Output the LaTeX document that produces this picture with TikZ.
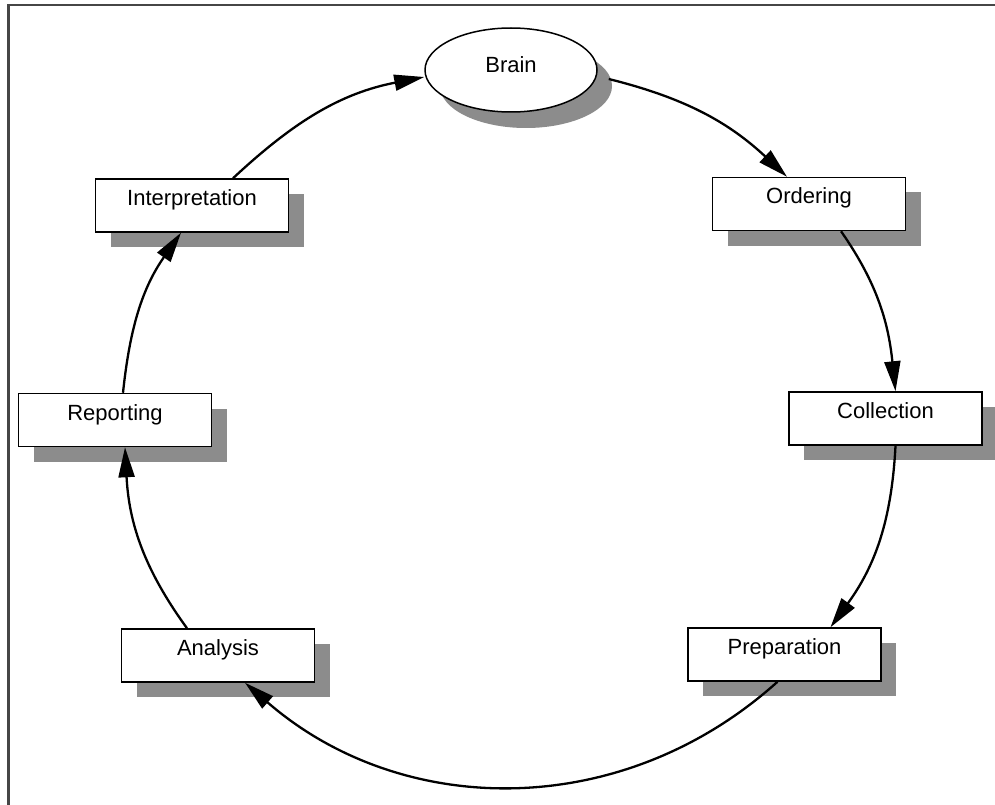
\documentclass[tikz,border=0pt]{standalone}
\usepackage{fontspec}
\setmainfont{Liberation Sans}
\usetikzlibrary{shapes.geometric,shadows,arrows.meta}
\definecolor{shadowgray}{RGB}{140,140,140}
\definecolor{framegray}{RGB}{70,70,70}
\begin{document}
\begin{tikzpicture}[x=1pt,y=1pt,
  labelfont/.style={font=\fontsize{22}{26}\selectfont},
  stage/.style={rectangle, draw=black, line width=1.5pt, fill=white,
    minimum width=193pt, inner sep=0pt, text height=26.5pt, text depth=26.5pt,
    labelfont,
    drop shadow={shadow xshift=15pt, shadow yshift=-15pt, fill=shadowgray, opacity=1}},
  hub/.style={ellipse, draw=black, line width=1.5pt, fill=white,
    minimum width=172pt, minimum height=84pt, inner sep=0pt,
    text height=12pt, text depth=6pt, labelfont,
    drop shadow={shadow xshift=15pt, shadow yshift=-16pt, fill=shadowgray, opacity=1}},
  flow/.style={line width=2.3pt, -{Triangle[length=30pt,width=16pt]}}
]
\useasboundingbox (0,0) rectangle (995,-805);

% frame along the top and left edges
\draw[framegray, line width=2.5pt] (995,-5) -- (8.5,-5) -- (8.5,-805);

% stages of the cycle
\node[hub]   (brain)       at (511,-70)      {Brain};
\node[stage] (interp)      at (192,-205.5)   {Interpretation};
\node[stage] (ordering)    at (809,-204)     {Ordering};
\node[stage] (reporting)   at (115,-420)     {Reporting};
\node[stage] (collection)  at (885.5,-418.5) {Collection};
\node[stage] (analysis)    at (218,-655.5)   {Analysis};
\node[stage] (preparation) at (784.5,-654.5) {Preparation};

% clockwise connectors
\draw[flow] ([xshift=41pt]interp.north) to[out=43,in=191] ([yshift=-7pt]brain.west);
\draw[flow] ([xshift=11pt,yshift=-9pt]brain.east) to[out=-14,in=137] ([xshift=-22pt]ordering.north);
\draw[flow] ([xshift=32pt]ordering.south) to[out=-55,in=96] ([xshift=10pt]collection.north);
\draw[flow] ([xshift=10pt]collection.south) to[out=-93,in=54] ([xshift=46pt]preparation.north);
\draw[flow] ([xshift=-7pt]preparation.south) to[out=222,in=319] ([xshift=27pt]analysis.south);
\draw[flow] ([xshift=-31pt]analysis.north) to[out=126,in=273] ([xshift=10pt]reporting.south);
\draw[flow] ([xshift=8pt]reporting.north) to[out=84,in=235] ([xshift=-11pt]interp.south);
\end{tikzpicture}
\end{document}
